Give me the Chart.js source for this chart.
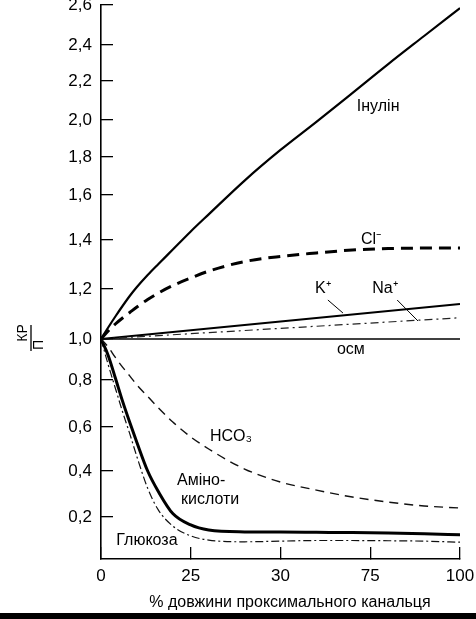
<!DOCTYPE html>
<html>
<head>
<meta charset="utf-8">
<script src="https://cdn.jsdelivr.net/npm/chart.js@4/dist/chart.umd.min.js"></script>
<style>
  html, body { margin: 0; padding: 0; background: #fff; }
  #wrap { position: relative; width: 476px; height: 613px; }
  #bar { width: 476px; height: 6px; background: #000; }
</style>
</head>
<body>
<div id="wrap"><canvas id="c"></canvas></div>
<div id="bar"></div>
<script>
// % of proximal tubule length
const pct = [0, 2, 4, 6, 8, 10, 13, 16, 20, 25, 30, 40, 50, 60, 70, 80, 90, 100];
const pctEnds = [0, 100];

// TF/P ratios
const inulin      = [1.0, 1.046, 1.09, 1.132, 1.172, 1.208, 1.257, 1.302, 1.361, 1.438, 1.514, 1.676, 1.838, 1.99, 2.138, 2.294, 2.445, 2.585];
const chloride    = [1.0, 1.032, 1.06, 1.084, 1.106, 1.128, 1.158, 1.184, 1.214, 1.245, 1.273, 1.312, 1.333, 1.347, 1.359, 1.365, 1.367, 1.367];
const bicarbonate = [1.0, 0.961, 0.91, 0.863, 0.82, 0.779, 0.73, 0.681, 0.621, 0.555, 0.5, 0.409, 0.352, 0.317, 0.287, 0.265, 0.248, 0.239];
const aminoAcids  = [1.0, 0.92, 0.81, 0.71, 0.62, 0.53, 0.4, 0.31, 0.215, 0.162, 0.138, 0.129, 0.128, 0.127, 0.126, 0.124, 0.12, 0.115];
const glucose     = [1.0, 0.875, 0.765, 0.665, 0.57, 0.465, 0.325, 0.23, 0.157, 0.11, 0.09, 0.082, 0.085, 0.088, 0.088, 0.087, 0.085, 0.08];
const potassium   = [1.0, 1.14];
const sodium      = [1.0, 1.085];
const osmolality  = [1.0, 1.0];

const xTicks = [0, 25, 50, 75, 100];
const xTickLabels = ['0', '25', '30', '75', '100'];
const yTicks = [0.2, 0.4, 0.6, 0.8, 1.0, 1.2, 1.4, 1.6, 1.8, 2.0, 2.2, 2.4, 2.6];
const yTickLabels = ['0,2', '0,4', '0,6', '0,8', '1,0', '1,2', '1,4', '1,6', '1,8', '2,0', '2,2', '2,4', '2,6'];

// the printed y axis is not evenly spaced: pixel offset of each tick above the x axis
const yKnots = [0, 0.2, 0.4, 0.6, 0.8, 1.0, 1.2, 1.4, 1.6, 1.8, 2.0, 2.2, 2.4, 2.6];
const yKnotOffsets = [0, 42, 88, 132, 179, 220, 270, 319, 364, 402, 439, 478, 514, 554];

function knotFrac(v) {
  const n = yKnots.length;
  let i = 0;
  while (i < n - 2 && v > yKnots[i + 1]) i++;
  const t = (v - yKnots[i]) / (yKnots[i + 1] - yKnots[i]);
  const off = yKnotOffsets[i] + t * (yKnotOffsets[i + 1] - yKnotOffsets[i]);
  return off / yKnotOffsets[n - 1];
}
function knotValue(f) {
  const n = yKnots.length;
  const off = f * yKnotOffsets[n - 1];
  let i = 0;
  while (i < n - 2 && off > yKnotOffsets[i + 1]) i++;
  const t = (off - yKnotOffsets[i]) / (yKnotOffsets[i + 1] - yKnotOffsets[i]);
  return yKnots[i] + t * (yKnots[i + 1] - yKnots[i]);
}

class KnotScale extends Chart.LinearScale {
  getPixelForValue(value) {
    if (value === null || value === undefined || isNaN(value)) return NaN;
    return this.getPixelForDecimal(knotFrac(value));
  }
  getValueForPixel(pixel) {
    return knotValue(this.getDecimalForPixel(pixel));
  }
}
KnotScale.id = 'knot';
KnotScale.defaults = Chart.LinearScale.defaults;
Chart.register(KnotScale);

const FONT = '"Liberation Sans", Arial, sans-serif';

const notes = [
  { text: 'Інулін', x: 77.2, y: 2.067 },
  { text: 'Cl⁻', x: 75.2, y: 1.404 },
  { text: 'K⁺', x: 61.8, y: 1.2 },
  { text: 'Na⁺', x: 79.1, y: 1.2 },
  { text: 'осм', x: 69.6, y: 0.946 },
  { text: 'HCO₃', x: 36.2, y: 0.555 },
  { text: 'Аміно-', x: 27.9, y: 0.36 },
  { text: 'кислоти', x: 30.4, y: 0.274 },
  { text: 'Глюкоза', x: 12.8, y: 0.086 }
];
const leaders = [
  [63.2, 1.156, 67.4, 1.104],
  [82.5, 1.156, 88.3, 1.072]
];

function pts(xs, ys) {
  return xs.map((x, i) => ({ x: x, y: ys[i] }));
}

const notesPlugin = {
  id: 'notes',
  afterDatasetsDraw(chart) {
    const ctx = chart.ctx;
    const xs = chart.scales.x, ys = chart.scales.y;
    ctx.save();
    ctx.fillStyle = '#000';
    ctx.font = '16px ' + FONT;
    ctx.textAlign = 'center';
    ctx.textBaseline = 'middle';
    notes.forEach(n => {
      ctx.fillText(n.text, xs.getPixelForValue(n.x), ys.getPixelForValue(n.y));
    });
    ctx.strokeStyle = '#000';
    ctx.lineWidth = 1;
    leaders.forEach(l => {
      ctx.beginPath();
      ctx.moveTo(xs.getPixelForValue(l[0]), ys.getPixelForValue(l[1]));
      ctx.lineTo(xs.getPixelForValue(l[2]), ys.getPixelForValue(l[3]));
      ctx.stroke();
    });

    // y title as a rotated fraction КР / П
    ctx.translate(31, 338);
    ctx.rotate(-Math.PI / 2);
    ctx.font = '14px ' + FONT;
    ctx.fillText('КР', 5, -8);
    ctx.fillText('П', -7, 8);
    ctx.lineWidth = 1.3;
    ctx.beginPath();
    ctx.moveTo(13, 0);
    ctx.lineTo(-13, 0);
    ctx.stroke();
    ctx.restore();

    // x title
    ctx.save();
    ctx.fillStyle = '#000';
    ctx.font = '16px ' + FONT;
    ctx.textAlign = 'center';
    ctx.textBaseline = 'middle';
    ctx.fillText('% довжини проксимального канальця', 290, 603);
    ctx.restore();
  }
};

new Chart(document.getElementById('c'), {
  type: 'line',
  data: {
    datasets: [
      { label: 'осм', data: pts(pctEnds, osmolality), borderColor: '#000', borderWidth: 1.3 },
      { label: 'Na⁺', data: pts(pctEnds, sodium), borderColor: '#222', borderWidth: 1.2, borderDash: [8, 4, 2, 4] },
      { label: 'K⁺', data: pts(pctEnds, potassium), borderColor: '#000', borderWidth: 2 },
      { label: 'Інулін', data: pts(pct, inulin), borderColor: '#000', borderWidth: 2.2 },
      { label: 'Cl⁻', data: pts(pct, chloride), borderColor: '#000', borderWidth: 3, borderDash: [12, 7] },
      { label: 'HCO₃', data: pts(pct, bicarbonate), borderColor: '#111', borderWidth: 1.4, borderDash: [9, 6] },
      { label: 'Амінокислоти', data: pts(pct, aminoAcids), borderColor: '#000', borderWidth: 3 },
      { label: 'Глюкоза', data: pts(pct, glucose), borderColor: '#111', borderWidth: 1.2, borderDash: [8, 3, 2, 3] }
    ]
  },
  options: {
    responsive: true,
    maintainAspectRatio: false,
    animation: false,
    events: [],
    layout: { padding: { left: 0, right: 16, top: 5, bottom: 0 } },
    elements: {
      point: { radius: 0 },
      line: { fill: false, cubicInterpolationMode: 'monotone' }
    },
    plugins: {
      legend: { display: false },
      tooltip: { enabled: false }
    },
    scales: {
      x: {
        type: 'linear',
        min: 0,
        max: 100,
        afterBuildTicks: s => { s.ticks = xTicks.map(v => ({ value: v })); },
        afterFit: s => { s.height = 54; s.paddingLeft = 0; s.paddingRight = 0; },
        ticks: {
          padding: 19,
          color: '#000',
          font: { family: FONT, size: 17 },
          maxRotation: 0,
          callback: (v, i) => xTickLabels[i]
        },
        grid: { drawOnChartArea: false, drawTicks: true, tickLength: -12, color: '#000', lineWidth: 1.3 },
        border: { display: true, color: '#000', width: 1.6 }
      },
      y: {
        type: 'knot',
        min: 0,
        max: 2.6,
        afterBuildTicks: s => { s.ticks = yTicks.map(v => ({ value: v })); },
        afterFit: s => { s.width = 101; s.paddingTop = 0; s.paddingBottom = 0; },
        ticks: {
          padding: 21,
          color: '#000',
          font: { family: FONT, size: 17 },
          callback: (v, i) => yTickLabels[i]
        },
        grid: { drawOnChartArea: false, drawTicks: true, tickLength: -12, color: '#000', lineWidth: 1.3 },
        border: { display: true, color: '#000', width: 1.6 }
      }
    }
  },
  plugins: [notesPlugin]
});
</script>
</body>
</html>
